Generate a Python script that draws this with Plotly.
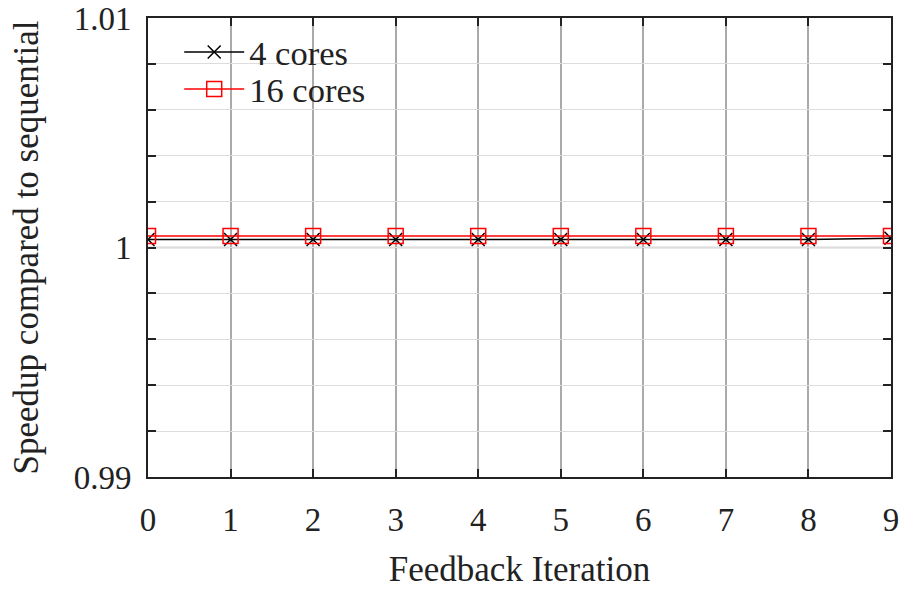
import plotly.graph_objects as go

iterations = [0, 1, 2, 3, 4, 5, 6, 7, 8, 9]
cores4 = [1.00035, 1.00035, 1.00035, 1.00035, 1.00035, 1.00035, 1.00035, 1.00035, 1.00035, 1.0004]
cores16 = [1.0005, 1.0005, 1.0005, 1.0005, 1.0005, 1.0005, 1.0005, 1.0005, 1.0005, 1.0005]
y_tickvals = [0.99, 0.992, 0.994, 0.996, 0.998, 1.0, 1.002, 1.004, 1.006, 1.008, 1.01]
y_ticktext = ["0.99", "", "", "", "", "1", "", "", "", "", "1.01"]

FONT = "Liberation Serif"

fig = go.Figure()
fig.add_trace(go.Scatter(
    x=iterations, y=cores4, mode="lines+markers", name="4 cores",
    line=dict(color="#000000", width=1.5),
    marker=dict(symbol="x-thin", size=13, line=dict(color="#000000", width=1.5)),
    legend="legend",
))
fig.add_trace(go.Scatter(
    x=iterations, y=cores16, mode="lines+markers", name="16 cores",
    line=dict(color="#ff0000", width=1.5),
    marker=dict(symbol="square-open", size=15, color="#ff0000", line=dict(color="#ff0000", width=1.5)),
    legend="legend2",
))

# reference line at 1.0
fig.add_shape(type="line", xref="paper", x0=0, x1=1, yref="y", y0=1.0, y1=1.0,
              line=dict(color="#aaaaaa", width=1.5), layer="below")

legend_common = dict(xanchor="left", yanchor="middle", bgcolor="rgba(0,0,0,0)",
                     font=dict(family=FONT, size=34.5), itemwidth=60)

fig.update_layout(
    template="none",
    width=906, height=589,
    margin=dict(l=148, r=15, t=18, b=112, autoexpand=False),
    paper_bgcolor="white", plot_bgcolor="white",
    font=dict(family=FONT, size=31, color="#222222"),
    showlegend=True,
    legend=dict(x=0.042, y=(477 - 52) / 459, **legend_common),
    legend2=dict(x=0.042, y=(477 - 89) / 459, **legend_common),
    xaxis=dict(
        range=[0, 9], tickvals=iterations, ticks="inside", ticklen=8,
        tickwidth=1.5, tickcolor="#222222", automargin=False,
        showline=True, linecolor="#222222", linewidth=2, mirror="ticks",
        showgrid=True, gridcolor="#aaaaaa", gridwidth=1.5,
        zeroline=False, ticklabelstandoff=12,
        title=dict(text="Feedback Iteration", standoff=21, font=dict(size=35)),
        tickfont=dict(size=33),
    ),
    yaxis=dict(
        range=[0.99, 1.01], tickvals=y_tickvals, ticktext=y_ticktext,
        ticks="inside", ticklen=8, tickwidth=1.5, tickcolor="#222222",
        automargin=False,
        showline=True, linecolor="#222222", linewidth=2, mirror="ticks",
        showgrid=True, gridcolor="#dddddd", gridwidth=1,
        zeroline=False, ticklabelstandoff=8,
        title=dict(text="Speedup compared to sequential", standoff=24, font=dict(size=35)),
        tickfont=dict(size=33),
    ),
)

fig.write_html("out.html", config={"displayModeBar": False},
               post_script="document.body.style.margin='0';document.body.style.overflow='hidden';")
